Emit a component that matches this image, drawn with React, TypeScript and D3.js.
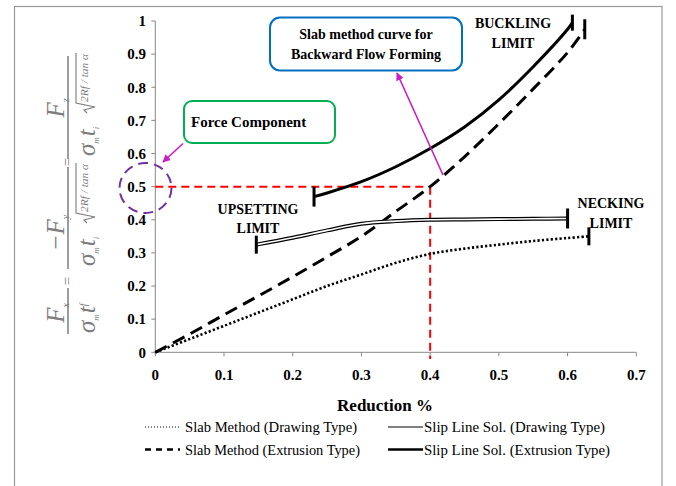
import * as d3 from "d3";

const W = 676;
const H = 486;

// x ticks / y ticks
const xTickValues = [0, 0.1, 0.2, 0.3, 0.4, 0.5, 0.6, 0.7];
const xTickLabels = ["0", "0.1", "0.2", "0.3", "0.4", "0.5", "0.6", "0.7"];
const yTickValues = [0, 0.1, 0.2, 0.3, 0.4, 0.5, 0.6, 0.7, 0.8, 0.9, 1];
const yTickLabels = ["0", "0.1", "0.2", "0.3", "0.4", "0.5", "0.6", "0.7", "0.8", "0.9", "1"];

// Slab Method (Drawing Type) - dotted
const slabDrawX = [0, 0.05, 0.1, 0.15, 0.2, 0.25, 0.3, 0.35, 0.4, 0.45, 0.5, 0.55, 0.6, 0.631];
const slabDrawY = [0, 0.04, 0.08, 0.12, 0.16, 0.2, 0.235, 0.27, 0.297, 0.313, 0.325, 0.336, 0.345, 0.35];

// Slab Method (Extrusion Type) - dashed
const slabExtX = [0, 0.05, 0.1, 0.15, 0.2, 0.25, 0.3, 0.35, 0.4, 0.45, 0.5, 0.55, 0.6, 0.625];
const slabExtY = [0, 0.055, 0.113, 0.17, 0.228, 0.288, 0.35, 0.425, 0.5, 0.59, 0.69, 0.795, 0.905, 0.975];

// Slip Line Sol. (Drawing Type) - double line
const slipDrawX = [0.147, 0.2, 0.25, 0.3, 0.35, 0.4, 0.45, 0.5, 0.55, 0.6];
const slipDrawY = [0.325, 0.346, 0.368, 0.388, 0.396, 0.4, 0.401, 0.402, 0.403, 0.404];

// Slip Line Sol. (Extrusion Type) - thick solid
const slipExtX = [0.231, 0.25, 0.3, 0.35, 0.4, 0.45, 0.5, 0.55, 0.6, 0.607];
const slipExtY = [0.47, 0.481, 0.515, 0.56, 0.615, 0.68, 0.762, 0.862, 0.975, 0.995];

const legendLabels = [
  "Slab Method (Drawing Type)",
  "Slip Line Sol. (Drawing Type)",
  "Slab Method (Extrusion Type)",
  "Slip Line Sol. (Extrusion Type)",
];

const serif = "'Liberation Serif', 'Times New Roman', serif";
const grey = "#7d7d7d";
const magenta = "#c81ec8";

function Sqrt({ x0, len }: { x0: number; len: number }) {
  // radical sign + radicand, local (rotated) coords
  return (
    <g>
      <path
        d={`M${x0 - 3},19 L${x0},16 L${x0 + 3},27 L${x0 + 7},8 L${x0 + 9 + len},8`}
        fill="none"
        stroke={grey}
        strokeWidth={1.1}
      />
      <text
        x={x0 + 8}
        y={20}
        fontSize={11}
        fontStyle="italic"
        textLength={len}
        lengthAdjust="spacingAndGlyphs"
        fill={grey}
      >
        2Rf / tan α
      </text>
    </g>
  );
}

function Denom({ x0 }: { x0: number }) {
  return (
    <text x={x0} y={27} fontSize={25} fontStyle="italic">
      σ<tspan fontSize={9} dy={4}>m</tspan>
      <tspan dy={-4} dx={1}>t</tspan>
      <tspan fontSize={9} dy={4}>i</tspan>
    </text>
  );
}

function YLabel() {
  // rotated: local (lx, ly) -> screen (68 + ly, -lx)
  return (
    <g transform="translate(68,0) rotate(-90)" fontFamily={serif} fill={grey}>
      {/* fraction 1 */}
      <line x1={-334} x2={-288} y1={0} y2={0} stroke={grey} strokeWidth={1.5} />
      <text x={-313} y={-4} fontSize={25} fontStyle="italic" textAnchor="middle">
        F<tspan fontSize={10} dy={5}>x</tspan>
      </text>
      <text x={-333} y={27} fontSize={25} fontStyle="italic">
        σ<tspan fontSize={9} dy={4}>m</tspan>
        <tspan dy={-4} dx={1}>t</tspan>
        <tspan fontSize={10} dy={-8}>f</tspan>
      </text>
      <text x={-281} y={4} fontSize={15} textAnchor="middle">=</text>

      {/* fraction 2 */}
      <line x1={-269} x2={-167} y1={0} y2={0} stroke={grey} strokeWidth={1.5} />
      <text x={-233} y={-4} fontSize={25} fontStyle="italic" textAnchor="middle">
        −F<tspan fontSize={10} dy={5}>y</tspan>
      </text>
      <Denom x0={-266} />
      <Sqrt x0={-220} len={48} />
      <text x={-162} y={4} fontSize={15} textAnchor="middle">=</text>

      {/* fraction 3 */}
      <line x1={-159} x2={-56} y1={0} y2={0} stroke={grey} strokeWidth={1.5} />
      <text x={-108} y={-4} fontSize={25} fontStyle="italic" textAnchor="middle">
        F<tspan fontSize={10} dy={5}>z</tspan>
      </text>
      <Denom x0={-156} />
      <Sqrt x0={-110} len={48} />
    </g>
  );
}

export default function App() {
  const x = d3.scaleLinear().domain([0, 0.7]).range([155.3, 636.3]);
  const y = d3.scaleLinear().domain([0, 1]).range([352.3, 21]);

  const line = d3
    .line<[number, number]>()
    .x((d) => x(d[0]))
    .y((d) => y(d[1]))
    .curve(d3.curveCatmullRom.alpha(0.5));

  const zip = (xs: number[], ys: number[]) => xs.map((v, i) => [v, ys[i]] as [number, number]);
  const slabDraw = zip(slabDrawX, slabDrawY);
  const slabExt = zip(slabExtX, slabExtY);
  const slipDraw = zip(slipDrawX, slipDrawY);
  const slipExt = zip(slipExtX, slipExtY);

  const endTick = (p: [number, number], half: number, key: string) => (
    <line
      key={key}
      x1={x(p[0])}
      x2={x(p[0])}
      y1={y(p[1]) - half}
      y2={y(p[1]) + half}
      stroke="#000"
      strokeWidth={3}
    />
  );

  const last = <T,>(a: T[]) => a[a.length - 1];

  return (
    <svg
      width={W}
      height={H}
      style={{ position: "absolute", left: 0, top: 0, background: "#fff" }}
      fontFamily={serif}
    >
      <defs>
        <marker id="arrM" viewBox="0 0 10 10" refX={9} refY={5} markerWidth={5} markerHeight={5} orient="auto">
          <path d="M0,0 L10,5 L0,10 z" fill={magenta} />
        </marker>
      </defs>
      <rect x={0} y={0} width={W} height={H} fill="#fff" />
      {/* outer frame */}
      <rect x={14.5} y={6.5} width={647.5} height={490} fill="none" stroke="#999" strokeWidth={1.2} />

      <YLabel />

      {/* axes */}
      <line x1={x(0)} x2={x(0)} y1={y(1)} y2={y(0)} stroke="#888" strokeWidth={1} />
      <line x1={x(0)} x2={x(0.7)} y1={y(0)} y2={y(0)} stroke="#888" strokeWidth={1} />
      {yTickValues.map((v, i) => (
        <g key={"yt" + i}>
          <line x1={x(0) - 4} x2={x(0)} y1={y(v)} y2={y(v)} stroke="#888" />
          <text x={146} y={y(v)} dy="0.35em" textAnchor="end" fontSize={15} fontWeight="bold">
            {yTickLabels[i]}
          </text>
        </g>
      ))}
      {xTickValues.map((v, i) => (
        <g key={"xt" + i}>
          <line x1={x(v)} x2={x(v)} y1={y(0)} y2={y(0) + 4} stroke="#888" />
          <text x={x(v)} y={380} textAnchor="middle" fontSize={15} fontWeight="bold">
            {xTickLabels[i]}
          </text>
        </g>
      ))}
      <text x={385} y={411} textAnchor="middle" fontSize={17} fontWeight="bold">
        Reduction %
      </text>

      {/* red guide lines */}
      <line x1={x(0)} x2={x(0.4)} y1={y(0.5)} y2={y(0.5)} stroke="#ff0000" strokeWidth={2} strokeDasharray="8 5" />
      <line x1={x(0.4)} x2={x(0.4)} y1={y(0.5)} y2={359} stroke="#ff0000" strokeWidth={2} strokeDasharray="8 5" />

      {/* curves */}
      <path d={line(slabDraw) ?? ""} fill="none" stroke="#000" strokeWidth={2.6} strokeDasharray="2.2 2.2" />
      <path d={line(slabExt) ?? ""} fill="none" stroke="#000" strokeWidth={3} strokeDasharray="13 7" />
      <path d={line(slipDraw) ?? ""} fill="none" stroke="#000" strokeWidth={4} />
      <path d={line(slipDraw) ?? ""} fill="none" stroke="#fff" strokeWidth={1.6} />
      <path d={line(slipExt) ?? ""} fill="none" stroke="#000" strokeWidth={3} />

      {endTick(last(slabDraw), 9, "t1")}
      {endTick(last(slabExt), 10, "t2")}
      {endTick(slipDraw[0], 9, "t3")}
      {endTick(last(slipDraw), 10, "t4")}
      {endTick(slipExt[0], 10, "t5")}
      {endTick(last(slipExt), 8, "t6")}

      {/* limit labels */}
      <g fontSize={14} fontWeight="bold" textAnchor="middle">
        <text x={513} y={28}>BUCKLING</text>
        <text x={513} y={48}>LIMIT</text>
        <text x={611} y={208}>NECKING</text>
        <text x={611} y={228}>LIMIT</text>
        <text x={258} y={214}>UPSETTING</text>
        <text x={258} y={233}>LIMIT</text>
      </g>

      {/* annotation boxes */}
      <rect x={184} y={101} width={151} height={42} rx={8} fill="#fff" stroke="#00b050" strokeWidth={2} />
      <text x={191} y={127} fontSize={15} fontWeight="bold">
        Force Component
      </text>
      <rect x={270} y={17.5} width={192} height={53} rx={10} fill="#fff" stroke="#0070c0" strokeWidth={2} />
      <text x={366} y={39} fontSize={14} fontWeight="bold" textAnchor="middle">
        Slab method curve for
      </text>
      <text x={366} y={59} fontSize={14} fontWeight="bold" textAnchor="middle">
        Backward Flow Forming
      </text>

      {/* purple dashed circle */}
      <ellipse cx={145.5} cy={188} rx={26} ry={25} fill="none" stroke="#7030a0" strokeWidth={2} strokeDasharray="10 6" />

      {/* arrows */}
      <line x1={183} y1={143.5} x2={163} y2={162} stroke={magenta} strokeWidth={1.6} markerEnd="url(#arrM)" />
      <line x1={443} y1={175} x2={397} y2={73} stroke={magenta} strokeWidth={1.6} markerEnd="url(#arrM)" />

      {/* legend */}
      <g fontSize={15}>
        <line x1={145} x2={180} y1={427} y2={427} stroke="#000" strokeWidth={1.2} strokeDasharray="1 2" />
        <text x={185} y={432} textLength={172} lengthAdjust="spacingAndGlyphs">{legendLabels[0]}</text>
        <line x1={388} x2={423} y1={427} y2={427} stroke="#000" strokeWidth={1} />
        <text x={424} y={432} textLength={181} lengthAdjust="spacingAndGlyphs">{legendLabels[1]}</text>
        <line x1={145} x2={180} y1={449.5} y2={449.5} stroke="#000" strokeWidth={2.5} strokeDasharray="6 5" />
        <text x={185} y={455} textLength={175} lengthAdjust="spacingAndGlyphs">{legendLabels[2]}</text>
        <line x1={388} x2={423} y1={449.5} y2={449.5} stroke="#000" strokeWidth={2.5} />
        <text x={424} y={455} textLength={186} lengthAdjust="spacingAndGlyphs">{legendLabels[3]}</text>
      </g>
    </svg>
  );
}
